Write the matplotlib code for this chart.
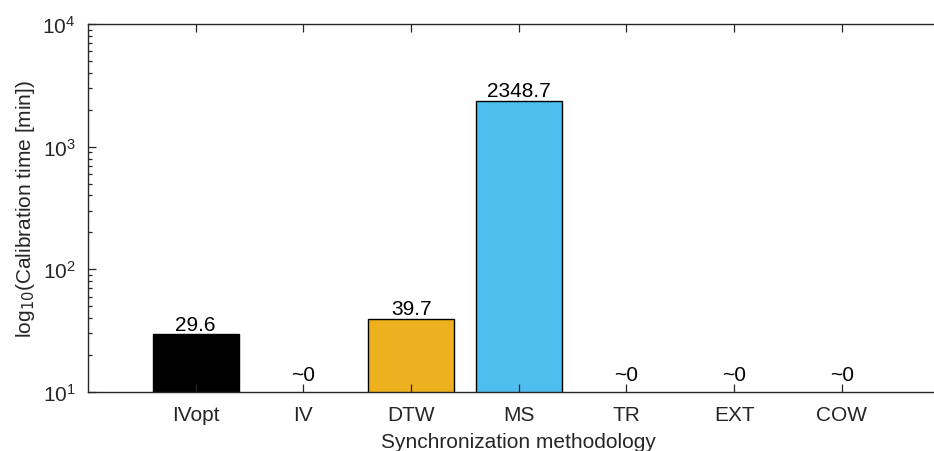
import numpy as np
import matplotlib.pyplot as plt
from matplotlib.ticker import LogLocator, NullFormatter

plt.rcParams['font.family'] = ['Liberation Sans', 'DejaVu Sans']

# --- DATA ---
methods = ["IVopt", "IV", "DTW", "MS", "TR", "EXT", "COW"]
calib_minutes = [29.6, 0, 39.7, 2348.7, 0, 0, 0]
bar_colors = ["#000000", None, "#EDB120", "#4DBEEE", None, None, None]

AX_COLOR = "#262626"
FS = 15

fig = plt.figure(figsize=(9.34, 4.52), dpi=100)
# right edge of the box runs past the picture, as in the reference
ax = fig.add_axes([0.0942, 0.1305, 0.9225, 0.8142])

x = np.arange(1, len(methods) + 1)
for xi, val, col in zip(x, calib_minutes, bar_colors):
    if val > 0:
        ax.bar(xi, val, width=0.8, bottom=1e-3, color=col, edgecolor="black",
               linewidth=1.0, zorder=1)
        ax.annotate(f"{val:.1f}", (xi, val), xytext=(0, 0.5),
                    textcoords="offset points", ha="center", va="bottom",
                    fontsize=FS, color="black")
    else:
        ax.annotate("~0", (xi, 10), xytext=(0, 5.5),
                    textcoords="offset points", ha="center", va="bottom",
                    fontsize=FS, color="black")

ax.set_yscale("log")
ax.set_ylim(10, 1e4)
ax.set_xlim(0, 8)
ax.set_xticks(x)
ax.set_xticklabels(methods)
ax.yaxis.set_major_locator(LogLocator(base=10, numticks=10))
ax.yaxis.set_minor_locator(LogLocator(base=10, subs=np.arange(2, 10), numticks=20))
ax.yaxis.set_minor_formatter(NullFormatter())

ax.tick_params(axis="both", which="major", direction="in", length=6, width=0.9,
               colors=AX_COLOR, labelsize=FS, labelcolor=AX_COLOR, pad=9)
ax.tick_params(axis="y", which="minor", direction="in", length=3, width=0.9,
               colors=AX_COLOR)
ax.tick_params(axis="x", top=True)
ax.tick_params(axis="y", which="both", right=False)

for side, sp in ax.spines.items():
    sp.set_color(AX_COLOR)
    sp.set_linewidth(1.0)
ax.spines["right"].set_visible(False)

ax.set_xlabel("Synchronization methodology", fontsize=FS, color=AX_COLOR,
              labelpad=6)
ax.set_ylabel(r"log$_{10}$(Calibration time [min])", fontsize=FS,
              color=AX_COLOR, labelpad=4)

fig.savefig("out.png", dpi=100)
